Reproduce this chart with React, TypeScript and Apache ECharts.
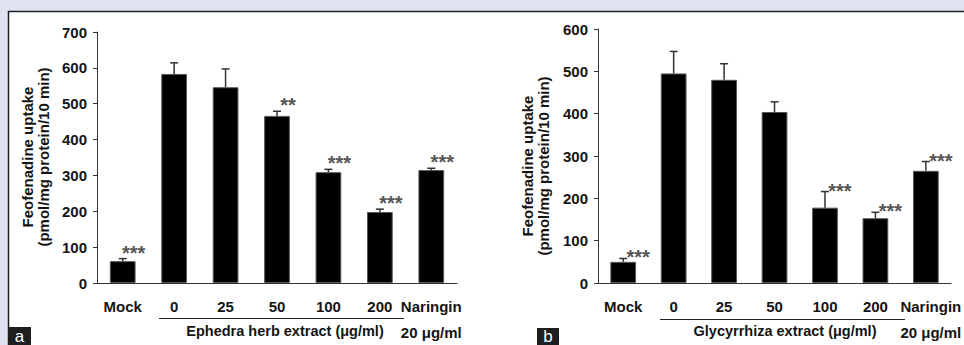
import React, { useEffect, useRef } from "react";
import * as echarts from "echarts";

const categories = ["Mock", "0", "25", "50", "100", "200", "Naringin"];
const naringinDose = "20 μg/ml";

const ephedraMeans = [61, 583, 546, 466, 309, 198, 315];
const ephedraErrors = [7, 31, 51, 13, 8, 8, 5];
const ephedraSig = ["***", "", "", "**", "***", "***", "***"];
const ephedraTicks = [0, 100, 200, 300, 400, 500, 600, 700];

const glycyMeans = [50, 495, 480, 404, 178, 153, 265];
const glycyErrors = [8, 52, 38, 24, 38, 14, 22];
const glycySig = ["***", "", "", "", "***", "***", "***"];
const glycyTicks = [0, 100, 200, 300, 400, 500, 600];

const yTitle = "Feofenadine uptake\n(pmol/mg protein/10 min)";
const ephedraGroupLabel = "Ephedra herb extract (μg/ml)";
const glycyGroupLabel = "Glycyrrhiza extract (μg/ml)";

const FONT = "Liberation Sans, Arial, sans-serif";
const INK = "#141414";

function makeErrorSeries(gridIdx: number, means: number[], errors: number[], sig: string[], dx: number, dy: number) {
  return {
    type: "custom",
    xAxisIndex: gridIdx,
    yAxisIndex: gridIdx,
    z: 5,
    data: means.map((m, i) => [i, m, errors[i]]),
    renderItem: (params: any, api: any) => {
      const i = api.value(0);
      const m = api.value(1);
      const e = api.value(2);
      const base = api.coord([i, m]);
      const top = api.coord([i, m + e]);
      const children: any[] = [
        {
          type: "line",
          shape: { x1: base[0], y1: base[1], x2: top[0], y2: top[1] },
          style: { stroke: "#333", lineWidth: 1.5 },
        },
        {
          type: "line",
          shape: { x1: top[0] - 4, y1: top[1], x2: top[0] + 4, y2: top[1] },
          style: { stroke: "#333", lineWidth: 1.5 },
        },
      ];
      const s = sig[params.dataIndex];
      if (s) {
        children.push({
          type: "text",
          x: top[0] + dx,
          y: top[1] + dy,
          style: {
            text: s,
            fill: "#555",
            font: `bold 20px ${FONT}`,
            align: "center",
            verticalAlign: "middle",
          },
        });
      }
      return { type: "group", children };
    },
  };
}

function makeAxes(gridIdx: number, ticks: number[], lastShift: number) {
  const x = {
    type: "category",
    gridIndex: gridIdx,
    data: categories.map((c, i) =>
      i === categories.length - 1 && lastShift
        ? { value: c, textStyle: { padding: [0, 0, 0, lastShift] } }
        : c
    ),
    axisLine: { show: true, lineStyle: { color: "#333", width: 1 } },
    axisTick: { show: false },
    axisLabel: {
      interval: 0,
      margin: 10,
      color: INK,
      fontFamily: FONT,
      fontWeight: "bold",
      fontSize: 15,
      lineHeight: 26,
      formatter: (v: string) => (v === "Naringin" ? `Naringin\n${naringinDose}` : v),
    },
  };
  const y = {
    type: "value",
    gridIndex: gridIdx,
    min: ticks[0],
    max: ticks[ticks.length - 1],
    interval: ticks[1] - ticks[0],
    splitLine: { show: false },
    axisLine: { show: true, lineStyle: { color: "#333", width: 1 } },
    axisTick: { show: true, length: 4, lineStyle: { color: "#333" } },
    axisLabel: {
      margin: 10,
      color: INK,
      fontFamily: FONT,
      fontWeight: "bold",
      fontSize: 15,
    },
  };
  return { x, y };
}

export default function App() {
  const ref = useRef<HTMLDivElement>(null);
  useEffect(() => {
    if (!ref.current) return;
    const chart = echarts.init(ref.current, null, { renderer: "svg" });
    const a0 = makeAxes(0, ephedraTicks, 0);
    const a1 = makeAxes(1, glycyTicks, 10);
    const barStyle = { color: "#000", borderColor: "#555", borderWidth: 1 };
    chart.setOption({
      animation: false,
      backgroundColor: "#dfe3f0",
      grid: [
        { left: 97, right: 507, top: 32, bottom: 57 },
        { left: 598, right: 9, top: 29, bottom: 59 },
      ],
      xAxis: [a0.x, a1.x],
      yAxis: [a0.y, a1.y],
      series: [
        {
          type: "bar",
          xAxisIndex: 0,
          yAxisIndex: 0,
          barWidth: "50%",
          data: ephedraMeans,
          itemStyle: barStyle,
        },
        makeErrorSeries(0, ephedraMeans, ephedraErrors, ephedraSig, 11, -6),
        {
          type: "bar",
          xAxisIndex: 1,
          yAxisIndex: 1,
          barWidth: "51%",
          data: glycyMeans,
          itemStyle: barStyle,
        },
        makeErrorSeries(1, glycyMeans, glycyErrors, glycySig, 15, -1),
      ],
      graphic: [
        {
          type: "rect",
          z: -10,
          silent: true,
          shape: { x: 8.5, y: 11.5, width: 980, height: 360 },
          style: { fill: "#ffffff", stroke: "#1c1c28", lineWidth: 1.5 },
        },
        {
          type: "text",
          x: 35,
          y: 157,
          rotation: Math.PI / 2,
          style: {
            text: yTitle,
            font: `bold 15px ${FONT}`,
            fill: INK,
            align: "center",
            verticalAlign: "middle",
            lineHeight: 16,
          },
        },
        {
          type: "text",
          x: 535,
          y: 166,
          rotation: Math.PI / 2,
          style: {
            text: yTitle,
            font: `bold 15px ${FONT}`,
            fill: INK,
            align: "center",
            verticalAlign: "middle",
            lineHeight: 16,
          },
        },
        {
          type: "line",
          shape: { x1: 159, y1: 318.5, x2: 404, y2: 318.5 },
          style: { stroke: "#222", lineWidth: 1 },
        },
        {
          type: "line",
          shape: { x1: 660, y1: 319.5, x2: 905, y2: 319.5 },
          style: { stroke: "#222", lineWidth: 1 },
        },
        {
          type: "text",
          x: 285,
          y: 331,
          style: {
            text: ephedraGroupLabel,
            font: `bold 14.5px ${FONT}`,
            fill: INK,
            align: "center",
            verticalAlign: "middle",
          },
        },
        {
          type: "text",
          x: 785,
          y: 331,
          style: {
            text: glycyGroupLabel,
            font: `bold 14.5px ${FONT}`,
            fill: INK,
            align: "center",
            verticalAlign: "middle",
          },
        },
        {
          type: "rect",
          shape: { x: 8, y: 327, width: 23, height: 20 },
          style: { fill: "#1e1e1e" },
        },
        {
          type: "text",
          x: 19.5,
          y: 345,
          style: {
            text: "a",
            font: `17px ${FONT}`,
            fill: "#fff",
            align: "center",
            verticalAlign: "bottom",
          },
        },
        {
          type: "rect",
          shape: { x: 537, y: 328, width: 22, height: 19 },
          style: { fill: "#1e1e1e" },
        },
        {
          type: "text",
          x: 548,
          y: 345,
          style: {
            text: "b",
            font: `17px ${FONT}`,
            fill: "#fff",
            align: "center",
            verticalAlign: "bottom",
          },
        },
      ],
    });
    return () => chart.dispose();
  }, []);
  return (
    <div
      ref={ref}
      style={{ position: "absolute", left: 0, top: 0, width: 964, height: 345 }}
    />
  );
}
